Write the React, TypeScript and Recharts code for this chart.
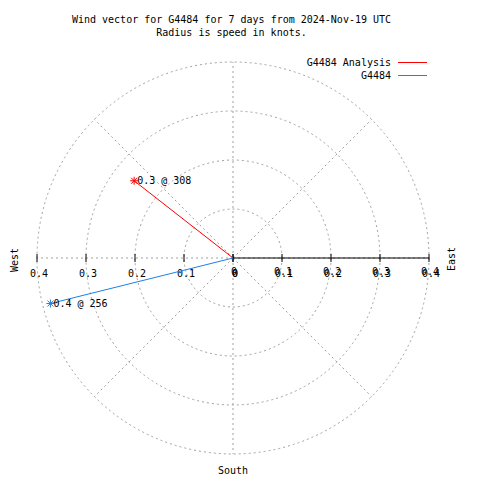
import React from "react";
import {
  RadarChart,
  PolarGrid,
  PolarAngleAxis,
  PolarRadiusAxis,
  Radar,
  ScatterChart,
  Scatter,
  XAxis,
  YAxis,
  ReferenceLine,
  ReferenceDot,
  Legend,
} from "recharts";

const titleLines = ["Wind vector for G4484 for 7 days from 2024-Nov-19 UTC", "Radius is speed in knots."];
const seriesNames = ["G4484 Analysis", "G4484"];
const seriesColors = ["#ff0000", "#1e80e8"];
const speeds = [0.256, 0.384];
const directions = [308, 256];
const radiusTicks = [0, 0.1, 0.2, 0.3, 0.4];
const compassPoints = ["N", "NE", "E", "SE", "S", "SW", "W", "NW"];

const FONT = "'DejaVu Sans Mono', monospace";
const GRID = "#a0a0a0";

const gridData = compassPoints.map((dir) => ({ dir, v: 0 }));

// each vector runs from the centre out to (speed, direction)
const vectors = seriesNames.map((name, i) => {
  const rad = (directions[i] * Math.PI) / 180;
  return {
    name,
    color: seriesColors[i],
    points: [
      { x: 0, y: 0 },
      {
        x: speeds[i] * Math.sin(rad),
        y: speeds[i] * Math.cos(rad),
        label: `${speeds[i].toFixed(1)} @ ${directions[i]}`,
      },
    ],
  };
});

const StarPoint = (props: any) => {
  const { cx, cy, payload, color } = props;
  if (!payload || !payload.label) return <g />;
  return (
    <g stroke={color} strokeWidth={1}>
      <line x1={cx - 4} y1={cy} x2={cx + 4} y2={cy} />
      <line x1={cx} y1={cy - 4} x2={cx} y2={cy + 4} />
      <line x1={cx - 3} y1={cy - 3} x2={cx + 3} y2={cy + 3} />
      <line x1={cx - 3} y1={cy + 3} x2={cx + 3} y2={cy - 3} />
      <text x={cx + 3} y={cy} dy="0.35em" stroke="none" fill="#000" fontSize={10} fontFamily={FONT}>
        {payload.label}
      </text>
    </g>
  );
};

const TickMark = (value: number, east: boolean) => (props: any) => {
  const { cx, cy } = props;
  const txt = String(Math.abs(value));
  return (
    <g>
      <line x1={cx} y1={cy - 4} x2={cx} y2={cy + 4} stroke="#000" strokeWidth={1} />
      <text x={cx + 2} y={cy + 15} dy="0.35em" textAnchor="middle" fontSize={10} fontFamily={FONT} fill="#000">
        {txt}
      </text>
      {east && (
        <text x={cx + 1} y={cy + 13} dy="0.35em" textAnchor="middle" fontSize={10} fontFamily={FONT} fill="#000">
          {txt}
        </text>
      )}
    </g>
  );
};

const SideText = (text: string, dx: number, dy: number, rotate: boolean) => (props: any) => {
  const { cx, cy } = props;
  const x = cx + dx;
  const y = cy + dy;
  return (
    <text
      x={x}
      y={y}
      dy="0.35em"
      textAnchor="middle"
      fontSize={10}
      fontFamily={FONT}
      fill="#000"
      transform={rotate ? `rotate(-90 ${x} ${y})` : undefined}
    >
      {text}
    </text>
  );
};

const LegendBox = ({ payload }: any) => {
  const items = [...(payload || [])].sort(
    (a: any, b: any) => seriesNames.indexOf(a.value) - seriesNames.indexOf(b.value)
  );
  return (
    <div style={{ fontFamily: FONT, fontSize: 10, color: "#000" }}>
      {items.map((p: any) => (
        <div key={p.value} style={{ display: "flex", justifyContent: "flex-end", alignItems: "center", height: 13 }}>
          <span style={{ whiteSpace: "pre" }}>{p.value}</span>
          <span
            style={{
              display: "inline-block",
              width: 29,
              height: 0,
              borderTop: `1px solid ${seriesColors[seriesNames.indexOf(p.value)]}`,
              marginLeft: 7,
            }}
          />
        </div>
      ))}
    </div>
  );
};

const App: React.FC = () => {
  const tickValues = radiusTicks.flatMap((v) =>
    v === 0 ? [{ v, east: false }, { v, east: true }] : [{ v: -v, east: false }, { v, east: true }]
  );
  return (
    <div style={{ position: "absolute", left: 0, top: 0, width: 480, height: 480, background: "#fff" }}>
      <div
        style={{
          position: "absolute",
          left: 0,
          top: 13,
          width: 463,
          textAlign: "center",
          fontFamily: FONT,
          fontSize: 10,
          lineHeight: "13px",
          color: "#000",
        }}
      >
        {titleLines.map((t) => (
          <div key={t}>{t}</div>
        ))}
      </div>
      <div style={{ position: "absolute", left: 0, top: 0 }}>
        <RadarChart width={480} height={480} cx={233} cy={258} outerRadius={196} margin={{ top: 0, right: 0, bottom: 0, left: 0 }} data={gridData}>
          <PolarGrid gridType="circle" stroke={GRID} strokeDasharray="2 3" />
          <PolarAngleAxis dataKey="dir" tick={false} axisLine={false} />
          <PolarRadiusAxis type="number" domain={[0, 0.4]} ticks={radiusTicks} tickCount={5} tick={false} axisLine={false} />
          <Radar dataKey="v" stroke="none" fill="none" dot={false} isAnimationActive={false} />
        </RadarChart>
      </div>
      <div style={{ position: "absolute", left: 0, top: 0 }}>
        <ScatterChart width={480} height={480} margin={{ top: 62, right: 51, bottom: 26, left: 37 }}>
          <XAxis type="number" dataKey="x" domain={[-0.4, 0.4]} allowDataOverflow hide />
          <YAxis type="number" dataKey="y" domain={[-0.4, 0.4]} allowDataOverflow hide />
          <ReferenceLine segment={[{ x: 0, y: 0 }, { x: 0.4, y: 0 }]} stroke="#000" strokeWidth={1} ifOverflow="visible" />
          {tickValues.map((t, i) => (
            <ReferenceDot key={i} x={t.v} y={0} r={0} ifOverflow="visible" shape={TickMark(t.v, t.east)} />
          ))}
          <ReferenceDot x={-0.4} y={0} r={0} ifOverflow="visible" shape={SideText("West", -23, 2, true)} />
          <ReferenceDot x={0.4} y={0} r={0} ifOverflow="visible" shape={SideText("East", 22, 1, true)} />
          <ReferenceDot x={0} y={-0.4} r={0} ifOverflow="visible" shape={SideText("South", 0, 16, false)} />
          {vectors.map((s) => (
            <Scatter
              key={s.name}
              name={s.name}
              data={s.points}
              fill={s.color}
              line={{ stroke: s.color, strokeWidth: 1 }}
              shape={(p: any) => <StarPoint {...p} color={s.color} />}
              isAnimationActive={false}
            />
          ))}
          <Legend
            layout="horizontal"
            verticalAlign="middle"
            align="center"
            content={LegendBox}
            wrapperStyle={{ top: 56, right: 53, left: "auto", bottom: "auto", width: 300 }}
          />
        </ScatterChart>
      </div>
    </div>
  );
};

export default App;
